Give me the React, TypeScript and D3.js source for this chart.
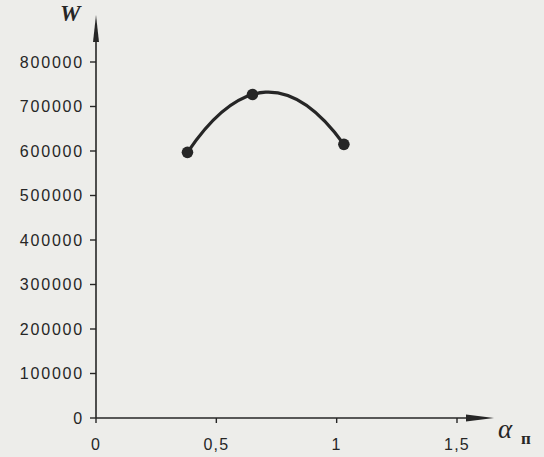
import * as d3 from 'd3';

// values
const alphaValues = [0.38, 0.65, 1.03];
const wValues = [597000, 727000, 615000];
const yTicks = [0, 100000, 200000, 300000, 400000, 500000, 600000, 700000, 800000];
const xTicks = [0, 0.5, 1, 1.5];
const xTickLabels = ['0', '0,5', '1', '1,5'];

const width = 544, height = 457;
const ink = '#262626';

// second order trend curve through the three points, drawn as one quadratic bezier
function trendPath(pts: [number, number][]) {
    const [[x1, y1], [x2, y2], [x3, y3]] = pts;
    const d12 = (y2 - y1) / (x2 - x1);
    const d23 = (y3 - y2) / (x3 - x2);
    const d123 = (d23 - d12) / (x3 - x1);
    const s1 = d12 + d123 * (x1 - x2);
    const xm = (x1 + x3) / 2;
    const p = d3.path();
    p.moveTo(x1, y1);
    p.quadraticCurveTo(xm, y1 + s1 * (xm - x1), x3, y3);
    return p.toString();
}

export default function App() {
    const x = d3.scaleLinear().domain([0, 1.5]).range([96, 457]);
    const y = d3.scaleLinear().domain([0, 800000]).range([418, 62]);

    const pts: [number, number][] = alphaValues.map((a, i) => [x(a), y(wValues[i])]);
    const line = trendPath(pts);

    const x0 = x(0), y0 = y(0);

    return (
        <svg width={width} height={height}
            style={{ position: 'absolute', left: 0, top: 0, background: '#ededea' }}>
            <rect width={width} height={height} fill="#ededea" />

            {/* y axis with arrow */}
            <line x1={x0} y1={y0} x2={x0} y2={24} stroke={ink} strokeWidth={1.6} />
            <path d={`M${x0},15 L${x0 + 3},42 L${x0 - 3},42 Z`} fill={ink} />
            {yTicks.map(t => (
                <g key={t}>
                    <line x1={x0 - 6} x2={x0} y1={y(t)} y2={y(t)} stroke={ink} strokeWidth={1.4} />
                    <text x={84} y={y(t)} dy="0.36em" textAnchor="end"
                        fontFamily="Liberation Sans, Arial, sans-serif" fontSize={16}
                        letterSpacing={1.8} fill={ink}>{t}</text>
                </g>
            ))}

            {/* x axis with arrow */}
            <line x1={x0} y1={y0} x2={485} y2={y0} stroke={ink} strokeWidth={1.6} />
            <path d={`M494,${y0} L466,${y0 - 3.5} L466,${y0 + 3.5} Z`} fill={ink} />
            {xTicks.map((t, i) => (
                <g key={t}>
                    <line x1={x(t)} x2={x(t)} y1={y0} y2={y0 + 5} stroke={ink} strokeWidth={1.4} />
                    <text x={x(t)} y={450} textAnchor="middle"
                        fontFamily="Liberation Sans, Arial, sans-serif" fontSize={16}
                        letterSpacing={1.2} fill={ink}>{xTickLabels[i]}</text>
                </g>
            ))}

            {/* axis titles */}
            <text x={60} y={21} fontFamily="Liberation Serif, Times New Roman, serif"
                fontStyle="italic" fontWeight="bold" fontSize={23} fill={ink}>W</text>
            <text x={498} y={438} fontFamily="Liberation Serif, Times New Roman, serif"
                fontStyle="italic" fontSize={27} fill={ink}>α</text>
            <text x={521} y={444} fontFamily="Liberation Serif, Times New Roman, serif"
                fontWeight="bold" fontSize={17} fill={ink}>п</text>

            {/* curve and markers */}
            <path d={line} fill="none" stroke={ink} strokeWidth={3.2} strokeLinecap="round" />
            {pts.map((p, i) => (
                <circle key={i} cx={p[0]} cy={p[1]} r={5.8} fill={ink} />
            ))}
        </svg>
    );
}
